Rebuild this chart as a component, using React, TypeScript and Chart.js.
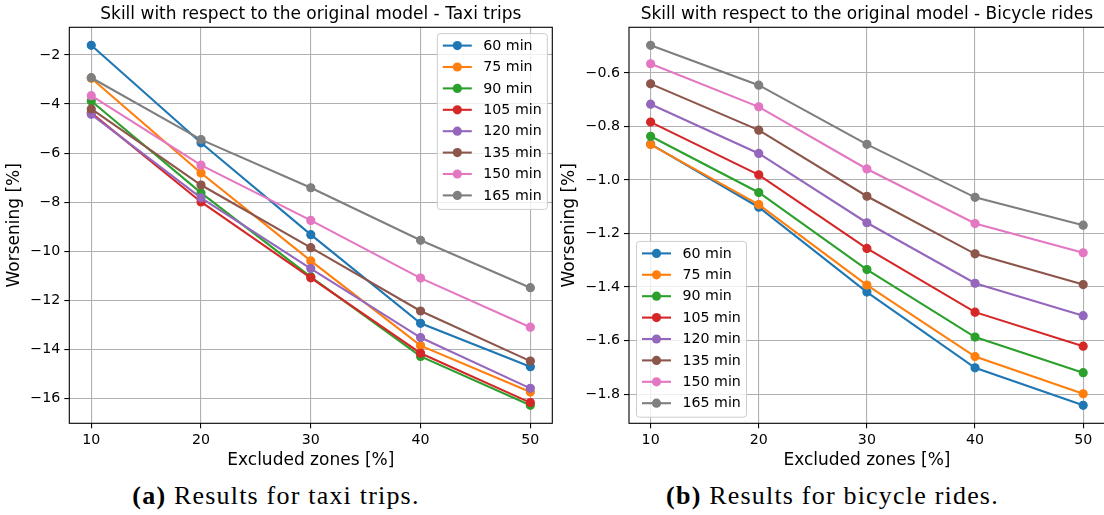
import React, { useEffect, useRef } from "react";
import { Chart, registerables } from "chart.js";

Chart.register(...registerables);

// ---------- data ----------
const EXCLUDED_ZONES = [10, 20, 30, 40, 50];
const SERIES_LABELS = ["60 min", "75 min", "90 min", "105 min", "120 min", "135 min", "150 min", "165 min"];
const SERIES_COLORS = ["#1f77b4", "#ff7f0e", "#2ca02c", "#d62728", "#9467bd", "#8c564b", "#e377c2", "#7f7f7f"];

const TAXI_60 = [-1.61, -5.58, -9.32, -12.93, -14.7];
const TAXI_75 = [-2.95, -6.81, -10.39, -13.84, -15.73];
const TAXI_90 = [-3.88, -7.62, -11.04, -14.28, -16.27];
const TAXI_105 = [-4.36, -7.99, -11.08, -14.15, -16.16];
const TAXI_120 = [-4.42, -7.82, -10.7, -13.51, -15.58];
const TAXI_135 = [-4.2, -7.3, -9.85, -12.43, -14.47];
const TAXI_150 = [-3.66, -6.49, -8.74, -11.09, -13.09];
const TAXI_165 = [-2.93, -5.45, -7.41, -9.55, -11.48];

const BIKE_60 = [-0.866, -1.102, -1.419, -1.702, -1.842];
const BIKE_75 = [-0.868, -1.092, -1.393, -1.66, -1.799];
const BIKE_90 = [-0.837, -1.047, -1.335, -1.587, -1.72];
const BIKE_105 = [-0.784, -0.981, -1.256, -1.494, -1.621];
const BIKE_120 = [-0.717, -0.901, -1.16, -1.386, -1.507];
const BIKE_135 = [-0.641, -0.814, -1.061, -1.276, -1.391];
const BIKE_150 = [-0.566, -0.727, -0.959, -1.163, -1.272];
const BIKE_165 = [-0.497, -0.646, -0.867, -1.065, -1.169];

const TAXI_SERIES = [TAXI_60, TAXI_75, TAXI_90, TAXI_105, TAXI_120, TAXI_135, TAXI_150, TAXI_165];
const BIKE_SERIES = [BIKE_60, BIKE_75, BIKE_90, BIKE_105, BIKE_120, BIKE_135, BIKE_150, BIKE_165];

const X_TICKS = [10, 20, 30, 40, 50];
const TAXI_Y_TICKS = [-16, -14, -12, -10, -8, -6, -4, -2];
const BIKE_Y_TICKS = [-1.8, -1.6, -1.4, -1.2, -1.0, -0.8, -0.6];

const TAXI_TITLE = "Skill with respect to the original model - Taxi trips";
const BIKE_TITLE = "Skill with respect to the original model - Bicycle rides";
const X_LABEL = "Excluded zones [%]";
const Y_LABEL = "Worsening [%]";

// ---------- helpers ----------
const SANS = '"DejaVu Sans", sans-serif';
const BASE = 14.2;
const LABEL_SIZE = 17;
const TITLE_SIZE = 17;
const CANVAS_H = 470;
const PLOT_TOP = 27.3;
const PLOT_BOTTOM = 423.3;

function paddedRange(values: number[], frac = 0.05): [number, number] {
  const lo = Math.min(...values);
  const hi = Math.max(...values);
  const m = (hi - lo) * frac;
  return [lo - m, hi + m];
}

const fmt = (v: number, decimals: number) => v.toFixed(decimals).replace("-", "\u2212");

type PanelProps = {
  title: string;
  series: number[][];
  yTicks: number[];
  decimals: number;
  legendCorner: "tr" | "bl";
  width: number;
  yAxisWidth: number;
  plotRight: number;
  yTitlePad: number;
  left: number;
};

function ChartPanel(p: PanelProps) {
  const ref = useRef<HTMLCanvasElement | null>(null);

  useEffect(() => {
    if (!ref.current) return;
    const [xMin, xMax] = paddedRange(EXCLUDED_ZONES);
    const [yMin, yMax] = paddedRange(p.series.flat());

    const overlay = {
      id: "mplOverlay",
      afterDatasetsDraw(chart: any) {
        const { ctx, chartArea: a } = chart;
        ctx.save();
        // spines
        ctx.strokeStyle = "#000";
        ctx.lineWidth = 1.1;
        ctx.strokeRect(a.left, a.top, a.right - a.left, a.bottom - a.top);
        // title
        ctx.fillStyle = "#000";
        ctx.font = `${TITLE_SIZE}px ${SANS}`;
        ctx.textAlign = "center";
        ctx.textBaseline = "alphabetic";
        ctx.fillText(p.title, (a.left + a.right) / 2, a.top - 8.5);
        // legend
        const rowH = 21.4;
        const boxW = 110;
        const boxH = (SERIES_LABELS.length - 1) * rowH + 26;
        let bx: number, by: number;
        if (p.legendCorner === "tr") {
          bx = a.right - 5.5 - boxW;
          by = a.top + 5.8;
        } else {
          bx = a.left + 7;
          by = a.bottom - 6.6 - boxH;
        }
        ctx.beginPath();
        (ctx as any).roundRect(bx + 0.5, by + 0.5, boxW, boxH, 3);
        ctx.fillStyle = "rgba(255,255,255,0.8)";
        ctx.fill();
        ctx.strokeStyle = "#cccccc";
        ctx.lineWidth = 1;
        ctx.stroke();
        ctx.font = `${BASE}px ${SANS}`;
        ctx.textAlign = "left";
        ctx.textBaseline = "middle";
        SERIES_LABELS.forEach((lab, i) => {
          const y = by + 12.5 + i * rowH;
          const c = SERIES_COLORS[i];
          ctx.strokeStyle = c;
          ctx.lineWidth = 2.1;
          ctx.beginPath();
          ctx.moveTo(bx + 6, y);
          ctx.lineTo(bx + 35, y);
          ctx.stroke();
          ctx.beginPath();
          ctx.arc(bx + 20.5, y, 4.6, 0, Math.PI * 2);
          ctx.fillStyle = c;
          ctx.fill();
          ctx.fillStyle = "#000";
          ctx.fillText(lab, bx + 46.5, y + 0.5);
        });
        ctx.restore();
      },
    };

    const chart = new Chart(ref.current, {
      type: "line",
      data: {
        datasets: p.series.map((vals, i) => ({
          label: SERIES_LABELS[i],
          data: EXCLUDED_ZONES.map((x, j) => ({ x, y: vals[j] })),
          borderColor: SERIES_COLORS[i],
          backgroundColor: SERIES_COLORS[i],
          pointBackgroundColor: SERIES_COLORS[i],
          pointBorderColor: SERIES_COLORS[i],
          borderWidth: 2.1,
          pointRadius: 4,
          pointBorderWidth: 1.2,
          pointHoverRadius: 4,
          tension: 0,
          fill: false,
          order: p.series.length - i,
        })),
      },
      options: {
        animation: false,
        responsive: false,
        events: [],
        layout: { padding: { top: PLOT_TOP, right: p.width - p.plotRight, bottom: 0, left: 0 } },
        plugins: { legend: { display: false }, title: { display: false }, tooltip: { enabled: false } },
        scales: {
          x: {
            type: "linear",
            min: xMin,
            max: xMax,
            afterBuildTicks: (ax: any) => {
              ax.ticks = X_TICKS.map((v) => ({ value: v }));
            },
            afterFit: (s: any) => {
              s.height = CANVAS_H - PLOT_BOTTOM;
            },
            ticks: {
              color: "#000",
              font: { family: SANS, size: BASE },
              padding: 4,
              maxRotation: 0,
              autoSkip: false,
              callback: (v: any) => fmt(Number(v), 0),
            },
            grid: { color: "#b0b0b0", lineWidth: 1.1, tickLength: 5, tickColor: "#000", tickWidth: 1.1 },
            border: { display: false },
            title: {
              display: true,
              text: X_LABEL,
              color: "#000",
              font: { family: SANS, size: LABEL_SIZE, lineHeight: 1 },
              padding: { top: 0, bottom: 0.8 },
            },
          },
          y: {
            type: "linear",
            min: yMin,
            max: yMax,
            afterBuildTicks: (ax: any) => {
              ax.ticks = p.yTicks.map((v) => ({ value: v }));
            },
            afterFit: (s: any) => {
              s.width = p.yAxisWidth;
            },
            ticks: {
              color: "#000",
              font: { family: SANS, size: BASE },
              padding: 4,
              autoSkip: false,
              callback: (v: any) => fmt(Number(v), p.decimals),
            },
            grid: { color: "#b0b0b0", lineWidth: 1.1, tickLength: 5, tickColor: "#000", tickWidth: 1.1 },
            border: { display: false },
            title: {
              display: true,
              text: Y_LABEL,
              color: "#000",
              font: { family: SANS, size: LABEL_SIZE, lineHeight: 1 },
              padding: { top: p.yTitlePad, bottom: 0 },
            },
          },
        },
      },
      plugins: [overlay],
    } as any);

    return () => chart.destroy();
  }, []);

  return (
    <canvas
      ref={ref}
      width={p.width}
      height={CANVAS_H}
      style={{ position: "absolute", left: p.left, top: 0, width: p.width, height: CANVAS_H }}
    />
  );
}

const captionStyle: React.CSSProperties = {
  position: "absolute",
  top: 483,
  fontFamily: '"Liberation Serif", serif',
  fontSize: 26,
  lineHeight: "26px",
  letterSpacing: "1.2px",
  textAlign: "center",
  color: "#000",
  whiteSpace: "nowrap",
};

export default function App() {
  return (
    <div
      style={{
        position: "fixed",
        left: 0,
        top: 0,
        width: 1104,
        height: 515,
        overflow: "hidden",
        background: "#fff",
      }}
    >
      <ChartPanel
        title={TAXI_TITLE}
        series={TAXI_SERIES}
        yTicks={TAXI_Y_TICKS}
        decimals={0}
        legendCorner="tr"
        width={560}
        left={0}
        yAxisWidth={69.3}
        plotRight={552.3}
        yTitlePad={6}
      />
      <ChartPanel
        title={BIKE_TITLE}
        series={BIKE_SERIES}
        yTicks={BIKE_Y_TICKS}
        decimals={1}
        legendCorner="bl"
        width={550}
        left={560}
        yAxisWidth={69}
        plotRight={547}
        yTitlePad={1.3}
      />
      <div style={{ ...captionStyle, left: 0, width: 552 }}>
        <b>(a)</b> Results for taxi trips.
      </div>
      <div style={{ ...captionStyle, left: 560, width: 545 }}>
        <b>(b)</b> Results for bicycle rides.
      </div>
    </div>
  );
}
